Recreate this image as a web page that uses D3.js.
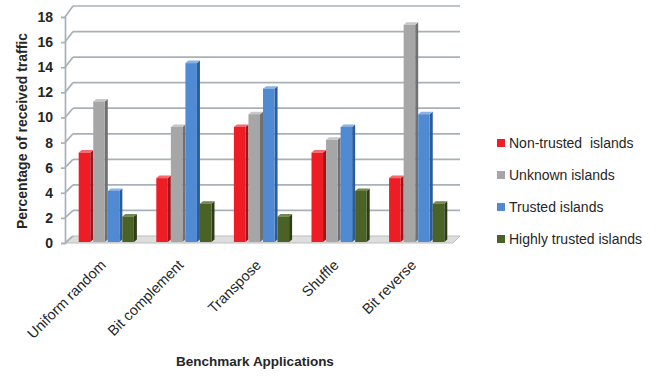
<!DOCTYPE html>
<html>
<head>
<meta charset="utf-8">
<script src="https://cdn.jsdelivr.net/npm/d3@7"></script>
<style>
  body { margin: 0; background: #fff; }
  text { font-family: "Liberation Sans", Arial, sans-serif; fill: #262626; }
</style>
</head>
<body>
<div id="chart"></div>
<script>
var svgWidth = 662;
var svgHeight = 377;

// chart data
var categories = ["Uniform random", "Bit complement", "Transpose", "Shuffle", "Bit reverse"];
var seriesNames = ["Non-trusted  islands", "Unknown islands", "Trusted islands", "Highly trusted islands"];
var nonTrusted = [7, 5, 9, 7, 5];
var unknown = [11, 9, 10, 8, 17];
var trusted = [4, 14, 12, 9, 10];
var highlyTrusted = [2, 3, 2, 4, 3];
var yTicks = [0, 2, 4, 6, 8, 10, 12, 14, 16, 18];

var series = [nonTrusted, unknown, trusted, highlyTrusted];
var faceColors = ["#ee1c25", "#a6a6a6", "#508ad2", "#4b6226"];
var sideColors = ["#a3141a", "#717171", "#2b5c9e", "#2e3d16"];
var topColors = ["#f46a6f", "#c8c8c8", "#8ab2e4", "#72884f"];

var svg = d3.select("#chart")
  .append("svg")
  .attr("width", svgWidth)
  .attr("height", svgHeight);

// front edge, back wall and bar (mid-depth) scales
var yFront = d3.scaleLinear().domain([0, 18]).range([243, 17]);
var yBack = d3.scaleLinear().domain([0, 18]).range([236, 6]);
var yMid = d3.scaleLinear().domain([0, 18]).range([242, 12]);

var axisX = 65;
var depthX = 8;
var wallRight = 460;

var x0 = d3.scaleBand()
  .domain(categories)
  .range([69, 457])
  .paddingInner(0.25)
  .paddingOuter(0.125);

var x1 = d3.scaleBand()
  .domain(d3.range(series.length))
  .range([0, x0.bandwidth()]);

var gridColor = "#a7b1b8";

// floor
svg.append("polygon")
  .attr("points", [[axisX, yFront(0)], [453, yFront(0)], [wallRight, yBack(0)], [axisX + depthX, yBack(0)]].join(" "))
  .attr("fill", "#dedede")
  .attr("stroke", "#bdbdbd")
  .attr("stroke-width", 1);

// gridlines on the back wall + left wall diagonals
var grid = svg.append("g");
yTicks.forEach(function(t) {
  grid.append("line")
    .attr("x1", axisX).attr("y1", yFront(t))
    .attr("x2", axisX + depthX).attr("y2", yBack(t))
    .attr("stroke", gridColor).attr("stroke-width", 1.7);
  if (t > 0) {
    grid.append("line")
      .attr("x1", axisX + depthX).attr("y1", yBack(t))
      .attr("x2", wallRight).attr("y2", yBack(t))
      .attr("stroke", gridColor).attr("stroke-width", 1.7);
  }
});

// y axis
var leftAxis = d3.axisLeft(yFront).tickValues(yTicks).tickSize(4).tickPadding(8);
var yAxisG = svg.append("g")
  .attr("transform", `translate(${axisX}, 0)`)
  .call(leftAxis);
yAxisG.select(".domain").attr("stroke", gridColor).attr("stroke-width", 1.7);
yAxisG.selectAll(".tick line").attr("stroke", gridColor).attr("stroke-width", 1.7);
yAxisG.selectAll(".tick text")
  .attr("font-family", "Liberation Sans, Arial, sans-serif")
  .attr("font-size", 14)
  .attr("font-weight", "bold")
  .attr("fill", "#1f1f1f");

// bars
var sideW = 3;
var sideH = 2.5;
var faceW = x1.bandwidth() - sideW;
var barsG = svg.append("g");

categories.forEach(function(cat, ci) {
  series.forEach(function(vals, si) {
    var v = vals[ci];
    var xl = x0(cat) + x1(si);
    var xr = xl + faceW;
    var yt = yMid(v);
    var yb = yMid(0);
    var bar = barsG.append("g");
    // right side face
    bar.append("polygon")
      .attr("points", [[xr, yt], [xr + sideW, yt - sideH], [xr + sideW, yb - sideH], [xr, yb]].join(" "))
      .attr("fill", sideColors[si]);
    // top face
    bar.append("polygon")
      .attr("points", [[xl, yt], [xl + sideW, yt - sideH], [xr + sideW, yt - sideH], [xr, yt]].join(" "))
      .attr("fill", topColors[si]);
    // front face
    bar.append("rect")
      .attr("x", xl)
      .attr("y", yt)
      .attr("width", faceW)
      .attr("height", yb - yt)
      .attr("fill", faceColors[si]);
  });
});

// category labels
svg.append("g")
  .selectAll("text")
  .data(categories)
  .enter()
  .append("text")
  .attr("transform", d => `translate(${x0(d) + x0.bandwidth() / 2 - 1}, 266) rotate(-45)`)
  .attr("text-anchor", "end")
  .attr("font-size", 14.5)
  .text(d => d);

// axis titles
svg.append("text")
  .attr("x", 255)
  .attr("y", 366)
  .attr("text-anchor", "middle")
  .attr("font-size", 13.5)
  .attr("font-weight", "bold")
  .text("Benchmark Applications");

svg.append("text")
  .attr("transform", "translate(27, 131) rotate(-90)")
  .attr("text-anchor", "middle")
  .attr("font-size", 14)
  .attr("font-weight", "bold")
  .text("Percentage of received traffic");

// legend
var legend = svg.append("g")
  .attr("transform", "translate(497, 143)");

seriesNames.forEach(function(name, i) {
  var row = legend.append("g").attr("transform", `translate(0, ${i * 32})`);
  row.append("rect")
    .attr("x", 0).attr("y", -4)
    .attr("width", 8).attr("height", 8)
    .attr("fill", faceColors[i]);
  row.append("text")
    .attr("x", 12)
    .attr("y", 5)
    .attr("font-size", 14)
    .style("white-space", "pre")
    .text(name);
});
</script>
</body>
</html>
